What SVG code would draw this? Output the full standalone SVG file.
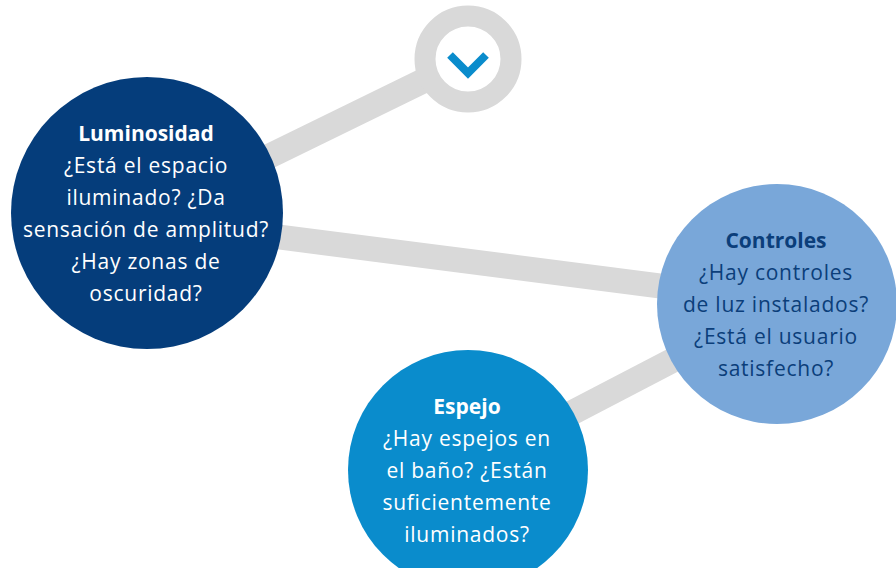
<svg xmlns="http://www.w3.org/2000/svg" width="896" height="568" viewBox="0 0 896 568">
<style>
.c{stroke:#d9d9d9;stroke-width:25;fill:none}
text{font-family:"Open Sans","Noto Sans",sans-serif;font-size:21px;letter-spacing:0.75px;text-anchor:middle}
.t{font-weight:700;letter-spacing:0}
.w{fill:#ffffff}
.d{fill:#0b3e7a}
</style>
<rect width="896" height="568" fill="#ffffff"/>
<g id="connectors">
<line class="c" x1="468" y1="59" x2="147" y2="216"/>
<line class="c" x1="147" y1="220" x2="777" y2="301"/>
<line class="c" x1="777" y1="306" x2="468" y2="467"/>
</g>
<g id="top">
<circle cx="468" cy="59" r="43" fill="#ffffff" stroke="#d9d9d9" stroke-width="21"/>
<polyline points="450,55 468,73 486,55" fill="none" stroke="#0a8ccc" stroke-width="8"/>
</g>
<g id="luminosidad">
<circle cx="147" cy="213" r="136" fill="#053d7b"/>
<text class="t w" x="146" y="141">Luminosidad</text>
<text class="w" x="146" y="173">¿Está el espacio</text>
<text class="w" x="146" y="205">iluminado? ¿Da</text>
<text class="w" x="146" y="237">sensación de amplitud?</text>
<text class="w" x="146" y="269">¿Hay zonas de</text>
<text class="w" x="146" y="301">oscuridad?</text>
</g>
<g id="controles">
<circle cx="777" cy="304" r="120" fill="#79a7d9"/>
<text class="t d" x="776" y="248">Controles</text>
<text class="d" x="776" y="280">¿Hay controles</text>
<text class="d" x="776" y="312">de luz instalados?</text>
<text class="d" x="776" y="344">¿Está el usuario</text>
<text class="d" x="776" y="376">satisfecho?</text>
</g>
<g id="espejo">
<circle cx="468" cy="470" r="120" fill="#0a8ccc"/>
<text class="t w" x="467" y="414">Espejo</text>
<text class="w" x="467" y="446">¿Hay espejos en</text>
<text class="w" x="467" y="478">el baño? ¿Están</text>
<text class="w" x="467" y="510">suficientemente</text>
<text class="w" x="467" y="542">iluminados?</text>
</g>
</svg>
